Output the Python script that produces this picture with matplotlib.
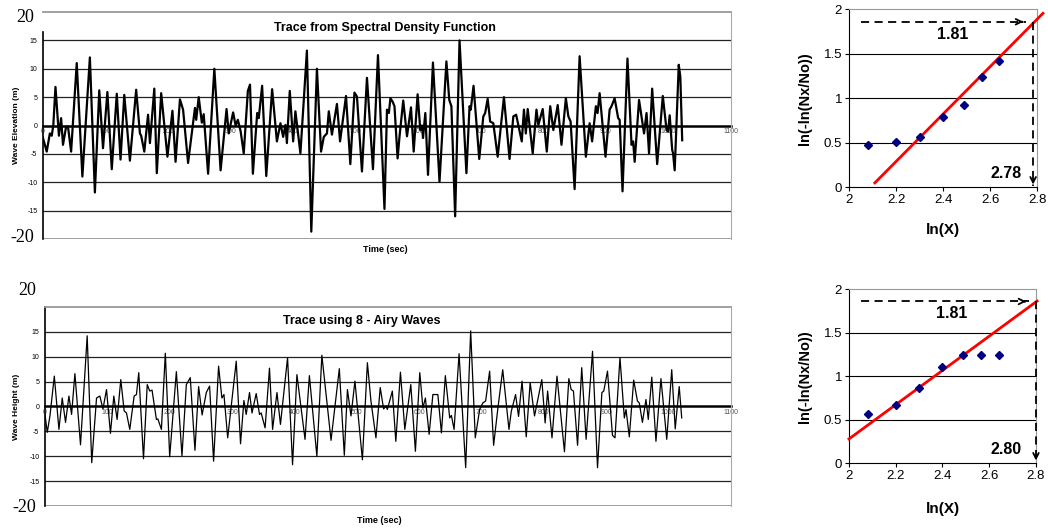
import matplotlib
matplotlib.use('Agg')
import matplotlib.pyplot as plt
import matplotlib.transforms as mtransforms

plt.rcParams['font.family'] = ['Liberation Sans', 'DejaVu Sans']

# --- trace from spectral density function (time in s, elevation in m) ---
top_time = [0, 6, 11, 14, 16.5, 20, 25.5, 29, 32, 37, 40, 45, 54, 63, 75, 83, 90, 96, 103, 110,
            118, 124, 130, 139, 149, 155, 157, 162, 168, 171, 178, 182, 189, 199, 207, 212, 219, 224,
            232, 243, 245, 249, 254, 257, 264, 274, 284, 293.5, 297, 304, 308, 311.6, 316, 321,
            327.6, 331, 335.6, 342.5, 345, 350.4, 357, 366.4, 374, 379.7, 384, 387.7, 390, 394.6,
            400, 403.6, 411.6, 422, 429, 438, 444.6, 449, 454, 457, 462, 470, 475, 484.5, 491.4,
            498, 502, 510, 518, 527.6, 535.6, 546, 550, 553, 555.5, 559, 562, 567, 570, 576, 582,
            588.4, 592.7, 599, 603.3, 606, 607.6, 611.3, 615.6, 623.5, 634, 645, 649.6, 653, 659,
            666, 677, 682, 684, 688.4, 697.5, 704, 707, 711, 715, 720, 727, 737, 746, 752, 756.5,
            765.5, 769, 772, 775, 783, 789, 792, 799, 805.5, 811, 816, 823, 829, 836, 840, 843.6,
            850, 858, 868, 874, 878, 884, 886.7, 890, 899.4, 906, 909, 914, 919.6, 922, 926.6,
            934.5, 941, 943.6, 946, 953, 958.5, 961, 965, 969, 974, 982, 991, 997, 999.4, 1002,
            1006, 1007.4, 1010, 1016.5, 1019, 1022]
top_elev = [-2.2, -4.6, -1.4, -1.8, 0, 6.8, -1.8, 1.3, -3.4, -0.2, -0.2, -4.6, 11, -9, 12, -11.8,
            6.2, -4, 5.9, -7.7, 5.6, -6, 5.4, -6.2, 6.3, -1.4, -1.8, -4.6, 1.9, -3.1, 6.5, -8.4,
            5.7, -5.5, 2.6, -6.4, 4.6, 2.8, -6.6, 3.1, 1, 5, 0.5, 2, -8.5, 10, -7.9, 2.9, -1.4,
            2.3, 0, 1, -1, -4.9, 6.1, 7.2, -8.5, 2.2, 1.3, 7, -8.9, 6.4, -2.8, 0.4, -2, 0.1, -3.1,
            6.1, -2.8, 2.5, -4.9, 13.2, -18.7, 10, -4.6, -2, -1.4, 2.5, -1.6, 3.8, -2.8, 5.2, -6.8,
            5.8, 5.1, -8.1, 8.4, -7.7, 12.4, -14.7, 2.8, 2.2, 4.8, 4.2, 3.4, -5.8, -2, 4.4, -1.9,
            3.2, -4.6, 5.5, -0.8, 0, -2.2, 2.2, -8.7, 11.1, -9.9, 11.3, 4.5, 3.4, -16,
            15, -8.4, 3.4, 2.8, 7, -5.9, 1.6, 2.2, 4.7, 0.7, 0.4, -5.5, 5, -5.9, 1.6, 1.9,
            -2.8, 2.8, -1.4, 2.9, -4.9, 2.8, 0.1, 2.9, -4.6, 3.4, -0.8, 3.6, -3.4, 4.8, 1.6, 0.7,
            -11.2, 12.2, -5.5, 0.4, -2.8, 3.4, 2.2, 5.7, -5.5, 2.8, 3.4, 4.8, 1.3, 1, -11.6,
            11.8, -3.4, -2.8, -6.4, 4.5, 0.4, -1.4, 2.2, -4.9, 6.5, -6.8, 5.2, -0.8, -1.1, 1.8,
            -4.3, -4.9, -7.9, 10.7, 8.6, -2.6]

# --- trace using 8 Airy waves (time in s, height in m) ---
bot_time = [0, 3.7, 8, 15, 22.4, 27.7, 33, 38.4, 42.7, 48, 57, 67.7, 75, 82.7, 88, 93, 98.7, 105,
            110.4, 115.7, 121.6, 127, 130.7, 136, 143, 146.7, 150.4, 158, 164, 168, 171.7, 178.7,
            181, 186.7, 193, 200, 210.7, 219.7, 226.7, 233, 240.5, 246.4, 252, 258.7, 264, 270.4,
            278.4, 283.7, 287, 293, 306.7, 313.6, 319, 322.7, 328, 332, 338.7, 344, 346.7, 353,
            360, 365, 372, 377.6, 389, 397, 404, 417, 424, 436, 444, 458.7, 472, 480, 485, 490.7,
            497, 509, 517, 522.7, 530.7, 537.6, 543, 546.7, 549, 557, 562.6, 570, 577, 586.6, 594,
            601, 606, 610, 616, 622, 630, 635.7, 642, 649, 651.7, 656, 664, 674.6, 682.6, 690,
            697, 702, 706.6, 713, 719.4, 726, 734, 744, 747.7, 754.6, 759.4, 765, 771.7, 778, 785,
            796.7, 802, 806, 813, 821, 833, 840, 843.7, 847.4, 854, 860.7, 867.7, 878, 886, 893,
            896, 902, 910, 914, 922, 929, 931.7, 937, 944, 950, 953, 958, 963.7, 967.4, 973,
            979.7, 987.7, 997, 1005, 1010.6, 1017, 1021]
bot_height = [-1.6, -5.2, -1.9, 6.1, -4.6, 1.7, -3.2, 2.1, -1.6, 6.6, -7.7, 14.2, -11.3, 1.7, 2.1,
              -0.5, 3.4, -5.4, 2.1, -2.6, 5.4, -0.9, -1.3, -4.6, 2.1, 2.4, 6.8, -10.5, 4.4, 3.1,
              3.3, -2.6, -2.5, -4.6, 10.7, -10.1, 7, -9.9, 4.4, 5.8, -8.8, 4, -1.7, 2.8, 4.1, -11,
              8.1, 1.7, 2.4, -6.3, 9.1, -7.5, 1.2, -1.6, 2.8, -1.3, 2.6, -1.6, -1.3, -4.3,
              7.7, -4.6, 2.8, -3.6, 9.8, -11.7, 6.4, -6.6, 6.2, -10, 10.3, -6.8, 7.6, -9.8, 3.4, -1.9,
              5.1, -10.7, 8.8, 1.1, -6.3, 3.8, -0.5, 0.1, -0.6, 3.1, -7, 6.9, -4.6, 4.4, -9,
              6.8, -0.3, 1.7, -5.6, 2.4, 2.4, -5.3, 6.2, -2.3, -1.8, -4.6, 10.6, -12.3, 15.2, -6.3,
              -0.6, 0.7, 1.1, 7.1, -7.8, -0.6, 7.4, -4.6, -1, 2.4, -2, 5.1, -6.1, 4.8, -1.9,
              5.4, -3.3, 3.1, -6.3, 6.1, -9.1, 5.6, 3.4, 3.1, -7.8, 7.8, -6.6, 11.1, -12.3, 2.8,
              3.1, 7.1, -5.8, -6.3, 9.8, -2.3, -0.6, -6.1, 5.3, 1.1, 0.7, -3.2, 1.4, -2.6, 5.9,
              -7, 5.6, -6.6, 7.4, -4.5, 4, -2.3]

# --- Weibull plots ---
lnx = [2.08, 2.20, 2.30, 2.40, 2.49, 2.565, 2.64]
lnln_spec = [0.47, 0.51, 0.57, 0.79, 0.93, 1.24, 1.42]
lnln_airy = [0.57, 0.67, 0.86, 1.11, 1.24, 1.24, 1.24]
fit_x_spec = [2.11, 2.825]
fit_y_spec = [0.05, 1.955]
fit_x_airy = [2.0, 2.805]
fit_y_airy = [0.28, 1.865]
read_y = 1.86
read_x_spec = 2.783
read_x_airy = 2.80
label_spec = ['1.81', '2.78']
label_airy = ['1.81', '2.80']

x_ticks = list(range(0, 1200, 100))
y_ticks = [-15, -10, -5, 0, 5, 10, 15]


def trace_panel(ax, t, v, lw, title, title_x, ylabel, big20_y, bigm20_y, left_bottom):
    ax.set_xlim(0, 1100)
    ax.set_ylim(-20, 20)
    for y in [-15, -10, -5, 5, 10, 15]:
        ax.axhline(y, color='#222222', lw=0.9, zorder=1)
    ax.axhline(-20, color='#999999', lw=1.3, zorder=1)
    ax.spines['bottom'].set_position(('data', 0))
    ax.spines['bottom'].set_linewidth(1.8)
    ax.spines['bottom'].set_color('black')
    ax.spines['bottom'].set_zorder(2)
    ax.spines['top'].set_color('#999999')
    ax.spines['top'].set_linewidth(1.3)
    ax.spines['right'].set_color('#aaaaaa')
    ax.spines['left'].set_linewidth(1.2)
    ax.spines['left'].set_bounds(-20, left_bottom)
    ax.plot(t, v, color='black', lw=lw, zorder=3)
    ax.set_xticks(x_ticks)
    ax.set_xticklabels([str(x) for x in x_ticks], fontsize=5, color='#555555')
    ax.set_yticks(y_ticks)
    ax.set_yticklabels([str(y) for y in y_ticks], fontsize=5)
    ax.tick_params(axis='x', length=0, pad=1.5)
    ax.tick_params(axis='y', length=0, pad=4)
    ax.text(title_x, 0.93, title, transform=ax.transAxes, ha='center', va='center',
            fontsize=9, fontweight='bold')
    trans = mtransforms.blended_transform_factory(ax.transAxes, ax.transData)
    for val, txt in [(big20_y, '20'), (bigm20_y, '-20')]:
        ax.text(-0.013, val, txt, transform=trans, ha='right', va='center',
                family='Liberation Serif', fontsize=13, clip_on=False)
    ax.set_ylabel(ylabel, fontsize=6, fontweight='bold')
    ax.set_xlabel('Time (sec)', fontsize=6.5, fontweight='bold')


def weibull_panel(ax, y_pts, fit_x, fit_y, read_x, labels):
    ax.set_xlim(2, 2.8)
    ax.set_ylim(0, 2)
    for y in [0.5, 1, 1.5]:
        ax.axhline(y, color='black', lw=0.8, zorder=1)
    ax.spines['top'].set_color('#999999')
    ax.spines['right'].set_color('#999999')
    ax.set_xticks([2, 2.2, 2.4, 2.6, 2.8])
    ax.set_xticklabels(['2', '2.2', '2.4', '2.6', '2.8'], fontsize=9.5)
    ax.set_yticks([0, 0.5, 1, 1.5, 2])
    ax.set_yticklabels(['0', '0.5', '1', '1.5', '2'], fontsize=9.5)
    ax.tick_params(length=3, pad=2)
    ax.plot(fit_x, fit_y, color='red', lw=2, zorder=3, clip_on=False)
    ax.plot(lnx, y_pts, 'D', color='#000080', ms=4, zorder=4)
    # dashed reading arrows
    ax.plot([2.05, read_x - 0.03], [read_y, read_y], color='black', lw=1.3,
            dashes=(4.5, 3), zorder=5)
    ax.annotate('', xy=(read_x - 0.03, read_y), xytext=(read_x - 0.06, read_y),
                arrowprops=dict(arrowstyle='->', lw=1.3, color='black'))
    ax.plot([read_x, read_x], [read_y, 0.02], color='black', lw=1.3, dashes=(4.5, 3),
            zorder=5, clip_on=False)
    ax.annotate('', xy=(read_x, 0.0), xytext=(read_x, 0.12),
                arrowprops=dict(arrowstyle='->', lw=1.3, color='black'), annotation_clip=False)
    ax.text(2.44, 1.72, labels[0], ha='center', va='center', fontsize=11.5, fontweight='bold')
    ax.text(2.67, 0.16, labels[1], ha='center', va='center', fontsize=11.5, fontweight='bold')
    ax.set_ylabel('ln(-ln(Nx/No))', fontsize=10.5, fontweight='bold')
    ax.set_xlabel('ln(X)', fontsize=11, fontweight='bold')


fig = plt.figure(figsize=(10.48, 5.29), dpi=100)
ax1 = fig.add_axes([0.0410, 0.5482, 0.6565, 0.4291])
ax2 = fig.add_axes([0.0429, 0.0435, 0.6546, 0.3762])
ax3 = fig.add_axes([0.8101, 0.6459, 0.1795, 0.3365])
ax4 = fig.add_axes([0.8101, 0.1242, 0.1784, 0.3289])

trace_panel(ax1, top_time, top_elev, 1.6, 'Trace from Spectral Density Function', 0.497,
            'Wave Elevation (m)', 19.1, -19.8, 16.5)
ax1.yaxis.set_label_coords(-0.033, 0.5)
ax1.xaxis.set_label_coords(0.497, -0.025)

trace_panel(ax2, bot_time, bot_height, 0.9, 'Trace using 8 - Airy Waves', 0.462,
            'Wave Height (m)', 23.4, -20.4, 20)
ax2.yaxis.set_label_coords(-0.036, 0.5)
ax2.xaxis.set_label_coords(0.488, -0.05)

weibull_panel(ax3, lnln_spec, fit_x_spec, fit_y_spec, read_x_spec, label_spec)
ax3.yaxis.set_label_coords(-0.198, 0.5)
ax3.xaxis.set_label_coords(0.5, -0.2)

weibull_panel(ax4, lnln_airy, fit_x_airy, fit_y_airy, read_x_airy, label_airy)
ax4.yaxis.set_label_coords(-0.2, 0.5)
ax4.xaxis.set_label_coords(0.5, -0.22)

fig.savefig('out.png', dpi=100)
